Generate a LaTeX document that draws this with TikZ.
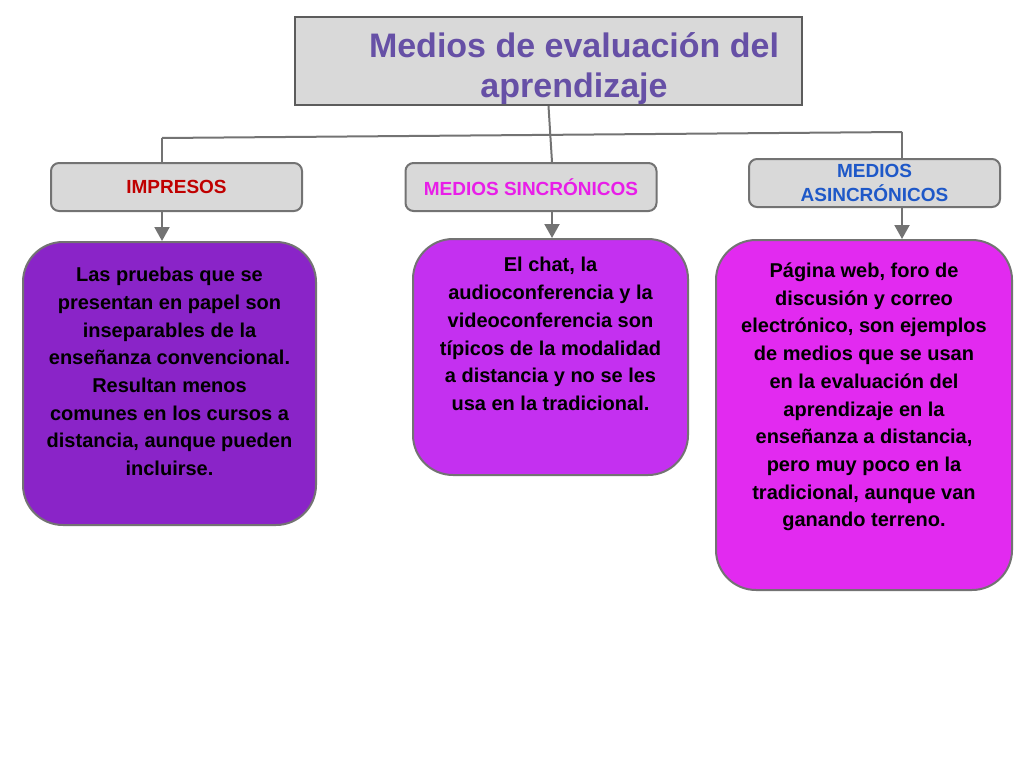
\documentclass[tikz,border=0pt]{standalone}
\usepackage{fontspec}
\setmainfont{Liberation Sans}
\usepackage{tikz}
\usetikzlibrary{arrows.meta}

\definecolor{titulo}{RGB}{102,80,166}
\definecolor{caja}{RGB}{217,217,217}
\definecolor{borde}{RGB}{115,115,115}
\definecolor{rojo}{RGB}{192,0,0}
\definecolor{rosa}{RGB}{232,30,232}
\definecolor{azul}{RGB}{30,88,200}
\definecolor{morado}{RGB}{138,36,200}
\definecolor{violeta}{RGB}{196,48,240}
\definecolor{fucsia}{RGB}{226,42,240}

\tikzset{
  titlebox/.style={draw=borde!80!black, line width=2pt, fill=caja,
    minimum width=507pt, minimum height=88pt},
  titletext/.style={text=titulo, align=center, inner sep=0pt,
    font=\fontsize{34}{40}\selectfont\bfseries},
  tipobox/.style={draw=borde, line width=2pt, fill=caja, rounded corners=8pt,
    minimum width=251pt, minimum height=48pt, align=center, inner sep=0pt,
    font=\fontsize{19}{24}\selectfont\bfseries},
  content/.style={draw=borde, line width=2pt, rounded corners=40pt},
  bodytext/.style={align=center, inner sep=0pt,
    font=\fontsize{20}{27.7}\selectfont\bfseries},
  linea/.style={draw=borde, line width=2pt},
  flecha/.style={linea, -{Triangle[length=14pt,width=15pt]}}
}

\begin{document}
\begin{tikzpicture}[x=1pt,y=-1pt]
  \useasboundingbox (0,0) rectangle (1024,768);
  %titulo
  \node[titlebox] (tit) at (548.5,61) {};
  \node[titletext] (tittxt) at (574,69) {Medios de evaluación del\\aprendizaje};
  \node[tipobox, text=rojo] (impresos) at (176.5,187) {IMPRESOS};
  \node[tipobox, text=rosa] (sinc) at (531,187) {MEDIOS SINCRÓNICOS};
  \node[tipobox, text=azul] (asinc) at (874.5,183) {MEDIOS\\ASINCRÓNICOS};
  \node[content, fill=morado, minimum width=293pt, minimum height=283pt] (pruebas) at (169.5,383.5) {};
  \node[content, fill=violeta, minimum width=275pt, minimum height=236pt] (chat) at (550.5,357) {};
  \node[content, fill=fucsia, minimum width=296pt, minimum height=350pt] (web) at (864,415) {};
  \node[bodytext] (pruebastxt) at ([yshift=12pt]pruebas.center) {Las pruebas que se\\presentan en papel son\\inseparables de la\\enseñanza convencional.\\Resultan menos\\comunes en los cursos a\\distancia, aunque pueden\\incluirse.};
  \node[bodytext] (chattxt) at ([yshift=23pt]chat.center) {El chat, la\\audioconferencia y la\\videoconferencia son\\típicos de la modalidad\\a distancia y no se les\\usa en la tradicional.};
  \node[bodytext] (webtxt) at ([yshift=18pt]web.center) {Página web, foro de\\discusión y correo\\electrónico, son ejemplos\\de medios que se usan\\en la evaluación del\\aprendizaje en la\\enseñanza a distancia,\\pero muy poco en la\\tradicional, aunque van\\ganando terreno.};
  \coordinate (jl) at (162,138);
  \coordinate (jm) at (552,135);
  \coordinate (jr) at (902,132);
  \draw[linea] (jl) -- (jr);
  \draw[linea] (tit.south) -- (sinc.north -| jm);
  \draw[linea] (jl) -- (impresos.north -| jl);
  \draw[linea] (jr) -- (asinc.north -| jr);
  \draw[flecha] (impresos.south -| jl) -- (pruebas.north -| jl);
  \draw[flecha] (sinc.south -| jm) -- (chat.north -| jm);
  \draw[flecha] (asinc.south -| jr) -- (web.north -| jr);
\end{tikzpicture}
\end{document}
